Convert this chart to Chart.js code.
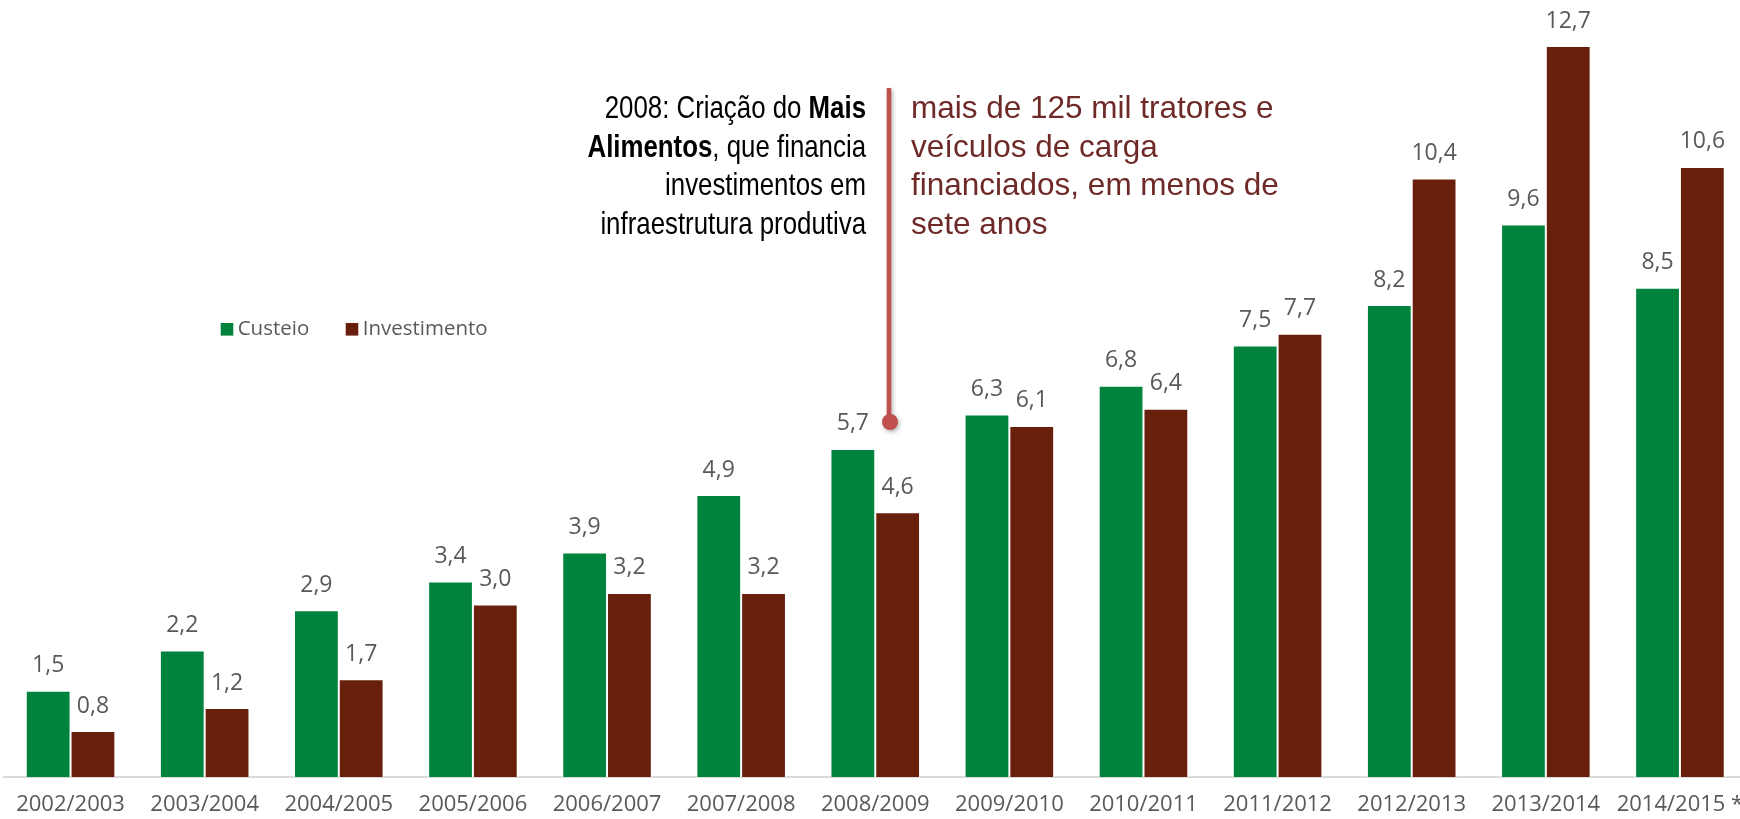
<!DOCTYPE html>
<html>
<head>
<meta charset="utf-8">
<script src="https://cdn.jsdelivr.net/npm/chart.js@4"></script>
<style>
  html, body { margin: 0; padding: 0; background: #ffffff; overflow: hidden; }
  #wrap { width: 1740px; height: 819px; overflow: hidden; }
</style>
</head>
<body>
<div id="wrap"><canvas id="chart" width="1747" height="819"></canvas></div>
<script>
const safras = ['2002/2003', '2003/2004', '2004/2005', '2005/2006', '2006/2007', '2007/2008', '2008/2009',
    '2009/2010', '2010/2011', '2011/2012', '2012/2013', '2013/2014', '2014/2015 *'];
const custeio = [1.5, 2.2, 2.9, 3.4, 3.9, 4.9, 5.7, 6.3, 6.8, 7.5, 8.2, 9.6, 8.5];
const investimento = [0.8, 1.2, 1.7, 3.0, 3.2, 3.2, 4.6, 6.1, 6.4, 7.7, 10.4, 12.7, 10.6];

const notaEsquerda = [
    [['2008: Criação do ', false], ['Mais', true]],
    [['Alimentos', true], [', que financia', false]],
    [['investimentos em', false]],
    [['infraestrutura produtiva', false]]
];
const notaDireita = ['mais de 125 mil tratores e', 'veículos de carga', 'financiados, em menos de', 'sete anos'];

const VERDE = '#00843D';
const MARROM = '#68200C';
const CINZA = '#595959';

const fmt = v => v.toFixed(1).replace('.', ',');

// rótulos de valor em cima das barras
const valueLabels = {
    id: 'valueLabels',
    afterDatasetsDraw(chart) {
        const ctx = chart.ctx;
        ctx.save();
        ctx.font = '23px "Open Sans"';
        ctx.fillStyle = CINZA;
        ctx.textAlign = 'center';
        ctx.textBaseline = 'alphabetic';
        chart.data.datasets.forEach((ds, i) => {
            chart.getDatasetMeta(i).data.forEach((bar, j) => {
                ctx.fillText(fmt(ds.data[j]), bar.x, bar.y - 18.5);
            });
        });
        ctx.restore();
    }
};

// legenda dentro da área do gráfico
const innerLegend = {
    id: 'innerLegend',
    afterDraw(chart) {
        const ctx = chart.ctx;
        ctx.save();
        ctx.font = '20.5px "Open Sans"';
        ctx.textBaseline = 'middle';
        ctx.textAlign = 'left';
        const xs = [220.7, 345.7];
        chart.data.datasets.forEach((ds, i) => {
            ctx.fillStyle = ds.backgroundColor;
            ctx.fillRect(xs[i], 323, 12.6, 12.6);
            ctx.fillStyle = CINZA;
            ctx.fillText(ds.label, xs[i] + 17, 329.5);
        });
        ctx.restore();
    }
};

// anotação do Mais Alimentos
const annotation = {
    id: 'annotation',
    afterDraw(chart) {
        const ctx = chart.ctx;
        ctx.save();
        // linha vertical com ponto
        ctx.shadowColor = 'rgba(0,0,0,0.3)';
        ctx.shadowBlur = 4;
        ctx.shadowOffsetX = 1.5;
        ctx.shadowOffsetY = 2;
        ctx.strokeStyle = '#C0504D';
        ctx.fillStyle = '#C0504D';
        ctx.lineWidth = 4.6;
        ctx.beginPath();
        ctx.moveTo(889, 88);
        ctx.lineTo(889, 420);
        ctx.stroke();
        ctx.beginPath();
        ctx.arc(890, 422, 8, 0, Math.PI * 2);
        ctx.fill();
        ctx.restore();

        const base = [118, 156.7, 195.4, 234];

        // texto à esquerda, estreito, alinhado à direita
        ctx.save();
        ctx.fillStyle = '#000000';
        ctx.textBaseline = 'alphabetic';
        ctx.textAlign = 'left';
        const sx = 0.82;
        const fReg = '31.5px "Liberation Sans"';
        const fBold = 'bold 31.5px "Liberation Sans"';
        notaEsquerda.forEach((parts, i) => {
            let w = 0;
            parts.forEach(p => { ctx.font = p[1] ? fBold : fReg; w += ctx.measureText(p[0]).width; });
            ctx.save();
            ctx.translate(866, base[i]);
            ctx.scale(sx, 1);
            let x = -w;
            parts.forEach(p => {
                ctx.font = p[1] ? fBold : fReg;
                ctx.fillText(p[0], x, 0);
                x += ctx.measureText(p[0]).width;
            });
            ctx.restore();
        });
        ctx.restore();

        // texto à direita
        ctx.save();
        ctx.fillStyle = '#6E2A28';
        ctx.font = '31.5px "Liberation Sans"';
        ctx.textAlign = 'left';
        ctx.textBaseline = 'alphabetic';
        notaDireita.forEach((t, i) => ctx.fillText(t, 911, base[i]));
        ctx.restore();
    }
};

new Chart(document.getElementById('chart'), {
    type: 'bar',
    data: {
        labels: safras,
        datasets: [
            {
                label: 'Custeio',
                data: custeio,
                backgroundColor: VERDE,
                borderColor: '#ffffff',
                borderWidth: 1,
                borderSkipped: 'bottom',
                barPercentage: 1,
                categoryPercentage: 0.668
            },
            {
                label: 'Investimento',
                data: investimento,
                backgroundColor: MARROM,
                borderColor: '#ffffff',
                borderWidth: 1,
                borderSkipped: 'bottom',
                barPercentage: 1,
                categoryPercentage: 0.668
            }
        ]
    },
    options: {
        responsive: false,
        animation: false,
        devicePixelRatio: 1,
        layout: { padding: { top: 0, left: 3.5, right: 0, bottom: -13.5 } },
        plugins: {
            legend: { display: false },
            tooltip: { enabled: false }
        },
        scales: {
            x: {
                grid: { display: false, drawTicks: false },
                border: { display: true, color: '#DADADA', width: 2 },
                ticks: {
                    color: CINZA,
                    font: { family: 'Open Sans', size: 22 },
                    padding: 14.5,
                    autoSkip: false,
                    maxRotation: 0,
                    minRotation: 0
                },
                afterFit: scale => {
                    scale.paddingLeft = 0;
                    scale.paddingRight = 0;
                }
            },
            y: {
                display: false,
                min: 0,
                max: 13.5
            }
        }
    },
    plugins: [valueLabels, innerLegend, annotation]
});
</script>
</body>
</html>
